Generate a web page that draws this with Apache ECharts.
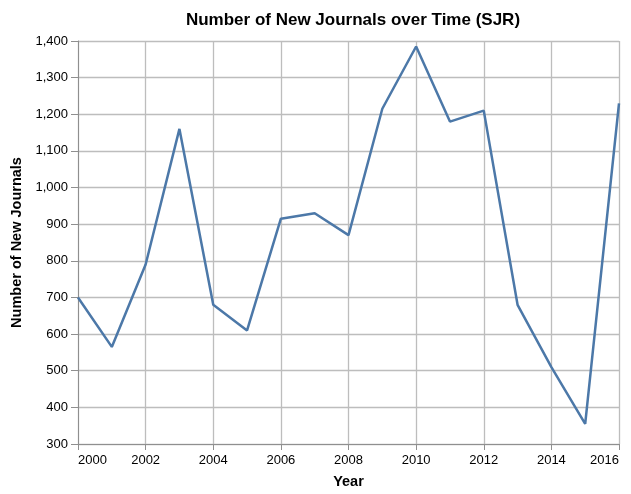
<!DOCTYPE html>
<html>
<head>
<meta charset="utf-8">
<script src="https://cdn.jsdelivr.net/npm/echarts@6/dist/echarts.min.js"></script>
<style>
  html, body { margin: 0; padding: 0; background: #fff; }
  #chart { width: 631px; height: 494px; }
</style>
</head>
<body>
<div id="chart"></div>
<script>
// New journals added per year (SJR)
const years = [2000, 2001, 2002, 2003, 2004, 2005, 2006, 2007, 2008,
               2009, 2010, 2011, 2012, 2013, 2014, 2015, 2016];
const newJournals = [700, 565, 790, 1160, 680, 610, 915, 930, 870,
                     1215, 1385, 1180, 1210, 680, 510, 355, 1230];

const FONT = '"Liberation Sans", Arial, Helvetica, sans-serif';
const GRID = '#bdbdbd';
const DOMAIN = '#8f8f8f';

const chart = echarts.init(document.getElementById('chart'), null, { renderer: 'canvas' });

chart.setOption({
  animation: false,
  backgroundColor: '#fff',
  title: {
    text: 'Number of New Journals over Time (SJR)',
    left: 348,
    textAlign: 'center',
    top: 7,
    textStyle: { fontFamily: FONT, fontSize: 17, fontWeight: 'bold', color: '#000' }
  },
  grid: { left: 78, right: 12, top: 41, bottom: 47, containLabel: false },
  xAxis: {
    type: 'value',
    min: 2000,
    max: 2016,
    interval: 2,
    name: 'Year',
    nameLocation: 'middle',
    nameGap: 30,
    nameTextStyle: { fontFamily: FONT, fontSize: 14.5, fontWeight: 'bold', color: '#000' },
    axisLine: { show: true, onZero: false, lineStyle: { color: DOMAIN, width: 1 } },
    axisTick: { show: true, length: 6, lineStyle: { color: DOMAIN } },
    axisLabel: {
      fontFamily: FONT, fontSize: 13, color: '#000', margin: 10,
      formatter: v => String(v),
      alignMinLabel: 'left',
      alignMaxLabel: 'right'
    },
    splitLine: { show: true, lineStyle: { color: GRID, width: 1.3 } }
  },
  yAxis: {
    type: 'value',
    min: 300,
    max: 1400,
    interval: 100,
    name: 'Number of New Journals',
    nameLocation: 'middle',
    nameRotate: 90,
    nameGap: 50,
    nameTextStyle: { fontFamily: FONT, fontSize: 14.5, fontWeight: 'bold', color: '#000' },
    axisLine: { show: true, lineStyle: { color: DOMAIN, width: 1 } },
    axisTick: { show: true, length: 7, lineStyle: { color: DOMAIN } },
    axisLabel: {
      fontFamily: FONT, fontSize: 13, color: '#000', margin: 10,
      formatter: v => v.toLocaleString('en-US')
    },
    splitLine: { show: true, lineStyle: { color: GRID, width: 1.3 } }
  },
  series: [{
    type: 'line',
    data: years.map((y, i) => [y, newJournals[i]]),
    showSymbol: false,
    symbol: 'none',
    lineStyle: { color: '#4c78a8', width: 2.5 },
    clip: false
  }]
});
</script>
</body>
</html>
